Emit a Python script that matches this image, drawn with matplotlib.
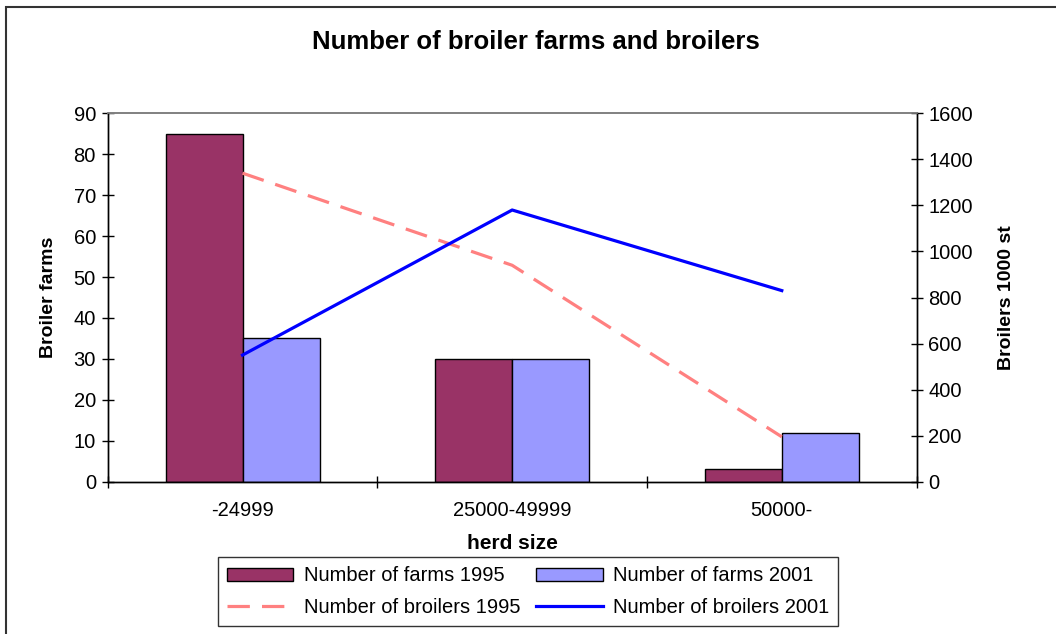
import matplotlib
matplotlib.use("Agg")
import matplotlib.pyplot as plt
import numpy as np
from matplotlib.patches import Rectangle

plt.rcParams["font.family"] = ["Liberation Sans", "DejaVu Sans"]

# Data
herd_sizes = ["-24999", "25000-49999", "50000-"]
farms_1995 = [85, 30, 3]
farms_2001 = [35, 30, 12]
broilers_1995 = [1340, 940, 195]
broilers_2001 = [550, 1180, 830]

farm_ticks = list(range(0, 91, 10))
broiler_ticks = list(range(0, 1601, 200))

col_f95 = "#993366"
col_f01 = "#9999FF"
col_b95 = "#FF8080"
col_b01 = "#0000FF"

FS = 14.5

fig = plt.figure(figsize=(10.56, 6.34), dpi=100)
ax = fig.add_axes([0.102, 0.2402, 0.766, 0.5811])
ax2 = ax.twinx()

x = np.arange(len(herd_sizes))
w = 0.2855
b1 = ax.bar(x - w / 2, farms_1995, width=w, color=col_f95, edgecolor="black", linewidth=1.0, zorder=2)
b2 = ax.bar(x + w / 2, farms_2001, width=w, color=col_f01, edgecolor="black", linewidth=1.0, zorder=2)

l1, = ax2.plot(x, broilers_1995, color=col_b95, linewidth=2.3, linestyle=(0, (7, 3.8)))
l2, = ax2.plot(x, broilers_2001, color=col_b01, linewidth=2.3)

ax.set_xlim(-0.5, len(herd_sizes) - 0.5)
ax.set_ylim(0, 90)
ax2.set_ylim(0, 1600)
ax.set_yticks(farm_ticks)
ax2.set_yticks(broiler_ticks)

# category boundaries carry the tick marks, centres carry the labels
ax.set_xticks(np.arange(-0.5, len(herd_sizes) + 0.5, 1.0))
ax.set_xticklabels([])
ax.set_xticks(x, minor=True)
ax.set_xticklabels(herd_sizes, minor=True)
ax.tick_params(axis="x", which="major", direction="inout", length=9, width=1)
ax.tick_params(axis="x", which="minor", length=0, pad=14, labelsize=FS)
ax.tick_params(axis="y", direction="inout", length=9, width=1, labelsize=FS, pad=4)
ax2.tick_params(axis="y", direction="inout", length=9, width=1, labelsize=FS, pad=4)

for a in (ax, ax2):
    a.spines["top"].set_color("#808080")
    a.spines["top"].set_linewidth(1.2)
    for s in ("left", "right", "bottom"):
        a.spines[s].set_color("black")
        a.spines[s].set_linewidth(1.0)

ax.set_ylabel("Broiler farms", fontsize=14, fontweight="bold", labelpad=12)
ax2.set_ylabel("Broilers 1000 st", fontsize=14, fontweight="bold", labelpad=18)
ax.set_xlabel("herd size", fontsize=15, fontweight="bold", labelpad=10)

fig.text(0.5076, 0.934, "Number of broiler farms and broilers", ha="center", va="center",
         fontsize=18.5, fontweight="bold")

leg = fig.legend([b1, l1, b2, l2],
                 ["Number of farms 1995", "Number of broilers 1995",
                  "Number of farms 2001", "Number of broilers 2001"],
                 ncol=2, loc="center", bbox_to_anchor=(0.5, 0.067),
                 fontsize=FS, frameon=True, fancybox=False, shadow=False,
                 handlelength=3.3, handleheight=0.62, handletextpad=0.5,
                 columnspacing=0.8, labelspacing=0.6, borderpad=0.45, borderaxespad=0)
leg.get_frame().set_edgecolor("black")
leg.get_frame().set_linewidth(1.0)

# outer chart border
fig.add_artist(Rectangle((5.5 / 1056, -0.1), 1.2, 1.1 - 7.5 / 634, transform=fig.transFigure,
                         fill=False, edgecolor="#333333", linewidth=1.5))

fig.savefig("out.png", dpi=100)
